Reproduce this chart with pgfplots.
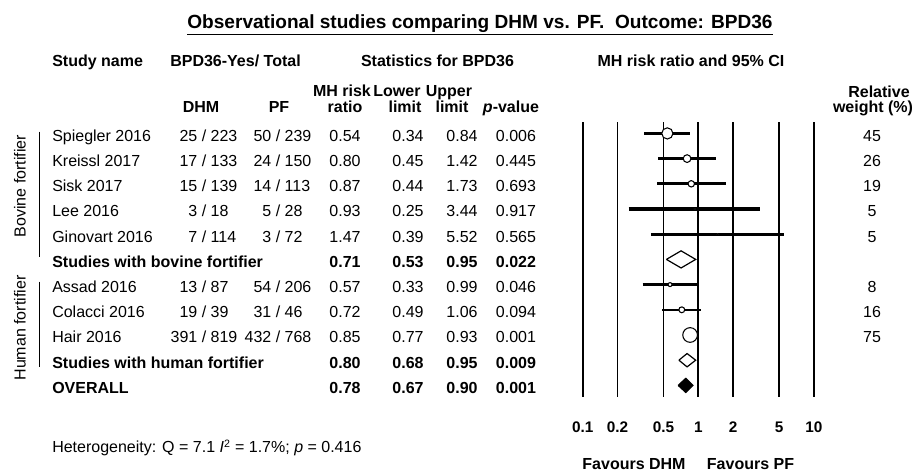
\documentclass[border=0pt]{standalone}
\usepackage{pgfplots}
\pgfplotsset{compat=1.18}
\usepackage{fontspec}
\setmainfont{Liberation Sans}
\newcommand\rt[2]{\makebox[0pt][r]{#1\ }/\makebox[0pt][l]{\ #2}}
\newcommand\datarow[9]{%
  \node[anchor=base west] at (52,#1) {#2};
  \node[anchor=base] at (204,#1) {#3};
  \node[anchor=base] at (278,#1) {#4};
  \node[anchor=base] at (345,#1) {#5};
  \node[anchor=base] at (408,#1) {#6};
  \node[anchor=base] at (462,#1) {#7};
  \node[anchor=base] at (516,#1) {#8};
  \node[anchor=base] at (872,#1) {#9};}
\newcommand\sumrow[6]{%
  \node[anchor=base west,font=\bfseries\fontsize{12}{14}\selectfont] at (52,#1) {#2};
  \node[anchor=base,font=\bfseries\fontsize{12}{14}\selectfont] at (345,#1) {#3};
  \node[anchor=base,font=\bfseries\fontsize{12}{14}\selectfont] at (408,#1) {#4};
  \node[anchor=base,font=\bfseries\fontsize{12}{14}\selectfont] at (462,#1) {#5};
  \node[anchor=base,font=\bfseries\fontsize{12}{14}\selectfont] at (516,#1) {#6};}
\begin{document}
\begin{tikzpicture}
\useasboundingbox (0,0) rectangle (693pt,353.25pt);
\begin{axis}[
  at={(437.0pt,55.7pt)}, anchor=south west, scale only axis,
  width=173.4pt, height=206.0pt,
  xmode=log, xmin=0.1, xmax=10, ymin=0.55, ymax=11.45, y dir=reverse,
  axis line style={draw=none},
  xtick={0.1,0.2,0.5,1,2,5,10}, xticklabels={0.1,0.2,0.5,1,2,5,10},
  minor xtick={}, ytick=\empty,
  major tick length=0pt,
  xmajorgrids, major grid style={black, line width=1.4pt},
  xticklabel style={anchor=base, yshift=-26.5pt, font=\bfseries\fontsize{11.5}{13}\selectfont},
  clip=false,
]
% CI lines
\addplot[line width=1.8pt] coordinates {(0.34,1) (0.84,1)};
\addplot[line width=2.3pt] coordinates {(0.45,2) (1.42,2)};
\addplot[line width=2.3pt] coordinates {(0.44,3) (1.73,3)};
\addplot[line width=2.3pt] coordinates {(0.25,4) (3.44,4)};
\addplot[line width=2.3pt] coordinates {(0.39,5) (5.52,5)};
\addplot[line width=2.3pt] coordinates {(0.33,7) (0.99,7)};
\addplot[line width=1.8pt] coordinates {(0.49,8) (1.06,8)};
\addplot[line width=1.5pt] coordinates {(0.77,9) (0.93,9)};
% point estimates
\addplot[only marks, mark=*, mark options={fill=white, draw=black, line width=0.8pt}, mark size=4.2pt] coordinates {(0.54,1)};
\addplot[only marks, mark=*, mark options={fill=white, draw=black, line width=0.8pt}, mark size=2.9pt] coordinates {(0.80,2)};
\addplot[only marks, mark=*, mark options={fill=white, draw=black, line width=0.8pt}, mark size=2.4pt] coordinates {(0.87,3)};
\addplot[only marks, mark=*, mark options={fill=white, draw=black, line width=0.4pt}, mark size=0.5pt] coordinates {(0.93,4)};
\addplot[only marks, mark=*, mark options={fill=white, draw=black, line width=0.4pt}, mark size=0.5pt] coordinates {(1.47,5)};
\addplot[only marks, mark=*, mark options={fill=white, draw=black, line width=0.8pt}, mark size=1.5pt] coordinates {(0.57,7)};
\addplot[only marks, mark=*, mark options={fill=white, draw=black, line width=0.8pt}, mark size=2.2pt] coordinates {(0.72,8)};
\addplot[only marks, mark=*, mark options={fill=white, draw=black, line width=0.8pt}, mark size=5.5pt] coordinates {(0.85,9)};
% diamonds
\addplot[draw=black, fill=white, line width=0.9pt, line join=miter] coordinates {(0.53,6) (0.71,5.66) (0.95,6) (0.71,6.34) (0.53,6)};
\addplot[draw=black, fill=white, line width=0.9pt, line join=miter] coordinates {(0.68,10) (0.80,9.735) (0.95,10) (0.80,10.265) (0.68,10)};
\addplot[draw=black, fill=black, line width=0.9pt, line join=miter] coordinates {(0.67,11) (0.78,10.72) (0.90,11) (0.78,11.28) (0.67,11)};
\end{axis}
\begin{scope}[shift={(0pt,353.25pt)}, x=0.75pt, y=-0.75pt, every node/.style={inner sep=0pt, font=\fontsize{12}{14}\selectfont}]
\node[anchor=base, font=\bfseries\fontsize{14.3}{17}\selectfont] at (480,28.5) {\underline{Observational studies comparing DHM vs. PF.\ \ Outcome: BPD36}};
\begin{scope}[every node/.append style={font=\bfseries\fontsize{12}{14}\selectfont}]
\node[anchor=base west] at (52,67) {Study name};
\node[anchor=base] at (235.5,67) {BPD36-Yes/ Total};
\node[anchor=base] at (437.5,67) {Statistics for BPD36};
\node[anchor=base] at (691,67) {MH risk ratio and 95\% CI};
\node[anchor=base] at (342,97) {MH risk};
\node[anchor=base] at (345,113) {ratio};
\node[anchor=base] at (397,97) {Lower};
\node[anchor=base] at (405,113) {limit};
\node[anchor=base] at (449,97) {Upper};
\node[anchor=base] at (452,113) {limit};
\node[anchor=base] at (511,113) {\itshape p\upshape-value};
\node[anchor=base] at (201,113) {DHM};
\node[anchor=base] at (279,113) {PF};
\node[anchor=base] at (879,98) {Relative};
\node[anchor=base] at (873,113) {weight (\%)};
\node[anchor=base] at (634,469) {Favours DHM};
\node[anchor=base] at (750.5,469) {Favours PF};
\end{scope}
\datarow{141.3}{Spiegler 2016}{\rt{25}{223}}{\rt{50}{239}}{0.54}{0.34}{0.84}{0.006}{45}
\datarow{166.5}{Kreissl 2017}{\rt{17}{133}}{\rt{24}{150}}{0.80}{0.45}{1.42}{0.445}{26}
\datarow{191.7}{Sisk 2017}{\rt{15}{139}}{\rt{14}{113}}{0.87}{0.44}{1.73}{0.693}{19}
\datarow{216.9}{Lee 2016}{\rt{3}{18}}{\rt{5}{28}}{0.93}{0.25}{3.44}{0.917}{5}
\datarow{242.1}{Ginovart 2016}{\rt{7}{114}}{\rt{3}{72}}{1.47}{0.39}{5.52}{0.565}{5}
\sumrow{267.3}{Studies with bovine fortifier}{0.71}{0.53}{0.95}{0.022}
\datarow{292.5}{Assad 2016}{\rt{13}{87}}{\rt{54}{206}}{0.57}{0.33}{0.99}{0.046}{8}
\datarow{317.7}{Colacci 2016}{\rt{19}{39}}{\rt{31}{46}}{0.72}{0.49}{1.06}{0.094}{16}
\datarow{342.9}{Hair 2016}{\rt{391}{819}}{\rt{432}{768}}{0.85}{0.77}{0.93}{0.001}{75}
\sumrow{368.1}{Studies with human fortifier}{0.80}{0.68}{0.95}{0.009}
\sumrow{393.3}{OVERALL}{0.78}{0.67}{0.90}{0.001}
\node[rotate=90] at (20,186) {Bovine fortifier};
\node[rotate=90] at (20,328) {Human fortifier};
\draw[line width=0.8pt] (39.5,131.7) -- (39.5,256.7);
\draw[line width=0.8pt] (39.5,281.7) -- (39.5,366.7);
\node[anchor=base west] at (52,453) {Heterogeneity: Q = 7.1 \textit{I}\textsuperscript{2} = 1.7\%; \textit{p} = 0.416};
\end{scope}
\end{tikzpicture}
\end{document}
